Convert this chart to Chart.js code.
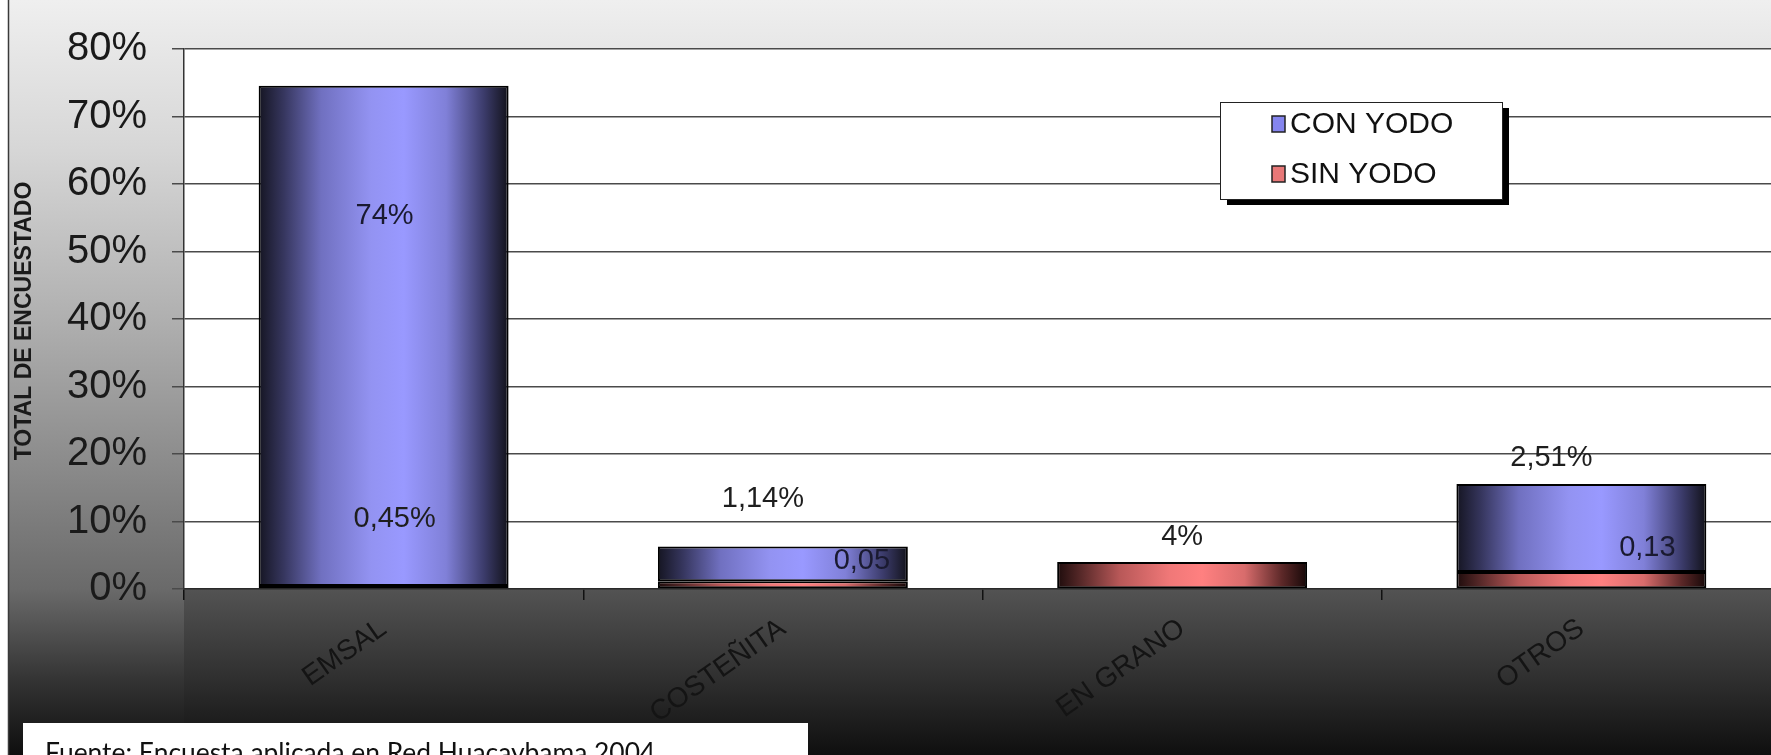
<!DOCTYPE html>
<html>
<head>
<meta charset="utf-8">
<script src="https://cdn.jsdelivr.net/npm/chart.js@4.4.1/dist/chart.umd.min.js"></script>
<style>
  html, body { margin: 0; padding: 0; overflow: hidden; background: #fff; }
  #wrap { position: absolute; left: 0; top: 0; width: 1781px; height: 755px; }
</style>
</head>
<body>
<div id="wrap"><canvas id="saltChart"></canvas></div>
<script>
// data (percent)
const categories = ['EMSAL', 'COSTEÑITA', 'EN GRANO', 'OTROS'];
const conYodo = [74.1, 5.15, 0, 13.05];
const sinYodo = [0.45, 1.14, 4, 2.51];
const conYodoLabels = ['74%', '0,05', '', '0,13'];
const sinYodoLabels = ['0,45%', '1,14%', '4%', '2,51%'];
const yTicks = [0, 10, 20, 30, 40, 50, 60, 70, 80];
const axisTitle = 'TOTAL DE ENCUESTADO';
const sourceNote = 'Fuente: Encuesta aplicada en Red Huacaybama 2004';

const BAR_PCT = 0.626;
const ARIAL = '"Liberation Sans", Arial, sans-serif';

const blueStops = [[0, '#151522'], [0.1, '#36365e'], [0.25, '#7070c0'], [0.45, '#9393f2'], [0.58, '#9999ff'], [0.75, '#8080d8'], [0.9, '#3c3c6c'], [1, '#12121a']];
const redStops = [[0, '#1e0c0c'], [0.1, '#5a2a2a'], [0.25, '#b85858'], [0.45, '#f07878'], [0.58, '#ff8080'], [0.75, '#d86c6c'], [0.9, '#5c2828'], [1, '#160808']];

function barGradient(ctx, stops, flat) {
    const chart = ctx.chart;
    const xs = chart.scales.x;
    if (ctx.type !== 'data' || !chart.chartArea || !xs) return flat;
    const cx = xs.getPixelForValue(ctx.dataIndex);
    const half = xs.width / categories.length * BAR_PCT / 2;
    const g = chart.ctx.createLinearGradient(cx - half, 0, cx + half, 0);
    stops.forEach(s => g.addColorStop(s[0], s[1]));
    return g;
}

// frame background, floor and white plot area
const backdrop = {
    id: 'backdrop',
    beforeDraw(chart) {
        const c = chart.ctx;
        const a = chart.chartArea;
        const w = chart.width, h = chart.height;
        c.save();
        c.fillStyle = '#ffffff';
        c.fillRect(0, 0, w, h);

        const g = c.createLinearGradient(0, 0, 0, h);
        g.addColorStop(0, '#efefef');
        g.addColorStop(0.2, '#d6d6d6');
        g.addColorStop(0.42, '#b0b0b0');
        g.addColorStop(0.62, '#8a8a8a');
        g.addColorStop(0.78, '#6a6a6a');
        g.addColorStop(0.9, '#343434');
        g.addColorStop(1, '#0e0e0e');
        c.fillStyle = g;
        c.fillRect(9, 0, w - 9, h);

        c.strokeStyle = '#3a3a3a';
        c.lineWidth = 1.5;
        c.beginPath();
        c.moveTo(8.5, 0);
        c.lineTo(8.5, h);
        c.stroke();

        const f = c.createLinearGradient(0, a.bottom, 0, h);
        f.addColorStop(0, '#535353');
        f.addColorStop(0.5, '#323232');
        f.addColorStop(1, '#0f0f0f');
        c.fillStyle = f;
        c.fillRect(a.left, a.bottom, w - a.left, h - a.bottom);

        c.fillStyle = '#ffffff';
        c.fillRect(a.left, a.top, a.right - a.left, a.bottom - a.top);
        c.restore();
    }
};

// value labels: [datasetIndex, dataIndex, y value, x offset]
const labelSpots = [
    [0, 0, 10.3, 11], [1, 0, 55.3, 1],
    [0, 1, 13.3, -20], [1, 1, 4.1, 79],
    [0, 2, 7.7, 0],
    [0, 3, 19.4, -30], [1, 3, 6.1, 66]
];

const valueLabels = {
    id: 'valueLabels',
    afterDatasetsDraw(chart) {
        const c = chart.ctx;
        const xs = chart.scales.x, ys = chart.scales.y;
        c.save();
        c.font = '29px ' + ARIAL;
        c.textAlign = 'center';
        c.textBaseline = 'middle';
        labelSpots.forEach(([ds, i, v, dx]) => {
            const text = chart.data.datasets[ds].valueLabels[i];
            if (!text) return;
            c.fillStyle = ds === 1 ? '#1a1a30' : '#1e1e1e';
            c.fillText(text, xs.getPixelForValue(i) + dx, ys.getPixelForValue(v));
        });
        c.restore();
    }
};

// legend box, axis title and source note
const extras = {
    id: 'extras',
    afterDraw(chart) {
        const c = chart.ctx;
        c.save();

        // legend
        c.fillStyle = '#000';
        c.fillRect(1227, 108, 282, 97);
        c.fillStyle = '#fff';
        c.fillRect(1220, 102, 282, 97);
        c.strokeStyle = '#222';
        c.lineWidth = 1;
        c.strokeRect(1220.5, 102.5, 282, 97);
        const rows = [[1, 124], [0, 174]];
        c.font = '30px ' + ARIAL;
        c.textBaseline = 'middle';
        c.textAlign = 'left';
        rows.forEach(([ds, y]) => {
            const d = chart.data.datasets[ds];
            c.fillStyle = d.legendColor;
            c.fillRect(1272, y - 8, 13, 16);
            c.strokeStyle = '#222';
            c.lineWidth = 1.5;
            c.strokeRect(1272, y - 8, 13, 16);
            c.fillStyle = '#111';
            c.fillText(d.label, 1290, y + 1);
        });

        // rotated axis title
        c.translate(25, 321);
        c.rotate(-Math.PI / 2);
        c.font = 'bold 23px ' + ARIAL;
        c.textAlign = 'center';
        c.fillStyle = '#1a1a1a';
        c.fillText(axisTitle, 0, 0);
        c.setTransform(1, 0, 0, 1, 0, 0);

        // source note box
        c.fillStyle = '#fff';
        c.fillRect(23, 723, 785, 40);
        c.font = '30px Lato, "Open Sans", sans-serif';
        const size = 30 * 610 / c.measureText(sourceNote).width;
        c.font = size.toFixed(1) + 'px Lato, "Open Sans", sans-serif';
        c.fillStyle = '#111';
        c.textAlign = 'left';
        c.textBaseline = 'alphabetic';
        c.fillText(sourceNote, 45, 762);
        c.restore();
    }
};

const saltChart = new Chart(document.getElementById('saltChart'), {
    type: 'bar',
    data: {
        labels: categories,
        datasets: [{
            label: 'SIN YODO',
            data: sinYodo,
            valueLabels: sinYodoLabels,
            legendColor: '#e87878',
            backgroundColor: ctx => barGradient(ctx, redStops, '#ff8080'),
            borderColor: '#000',
            borderWidth: ctx => (ctx.raw ? 2 : 0),
            borderSkipped: false
        }, {
            label: 'CON YODO',
            data: conYodo,
            valueLabels: conYodoLabels,
            legendColor: '#8585ee',
            backgroundColor: ctx => barGradient(ctx, blueStops, '#9999ff'),
            borderColor: '#000',
            borderWidth: ctx => (ctx.raw ? 2 : 0),
            borderSkipped: false
        }]
    },
    options: {
        responsive: true,
        maintainAspectRatio: false,
        animation: false,
        barPercentage: BAR_PCT,
        categoryPercentage: 1,
        layout: { padding: { top: 29, left: 0, right: 0, bottom: 0 } },
        plugins: {
            legend: { display: false },
            tooltip: { enabled: false }
        },
        scales: {
            x: {
                stacked: true,
                afterFit: s => { s.height = 166; },
                grid: { display: true, drawOnChartArea: false, drawTicks: true, tickLength: 11, color: '#111', lineWidth: 1.5, offset: true },
                border: { display: true, color: '#2a2a2a', width: 1.5 },
                ticks: {
                    autoSkip: false,
                    minRotation: 35,
                    maxRotation: 35,
                    padding: 12,
                    color: '#141414',
                    font: { family: ARIAL, size: 28 }
                }
            },
            y: {
                stacked: true,
                min: yTicks[0],
                max: yTicks[yTicks.length - 1],
                afterFit: s => { s.width = 184; },
                afterBuildTicks: s => { s.ticks = yTicks.map(v => ({ value: v })); },
                grid: { color: '#4a4a4a', lineWidth: 1.5, tickLength: 12, drawTicks: true },
                border: { display: true, color: '#333', width: 1.5 },
                ticks: {
                    padding: 25,
                    color: '#1a1a1a',
                    font: { family: ARIAL, size: 40 },
                    callback: v => v + '%'
                }
            }
        }
    },
    plugins: [backdrop, valueLabels, extras]
});
</script>
</body>
</html>
